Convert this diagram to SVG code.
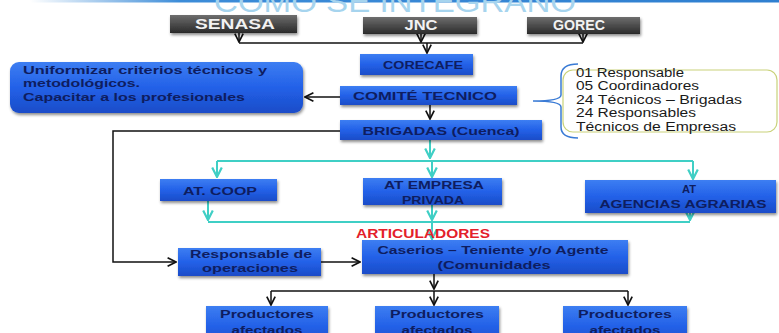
<svg xmlns="http://www.w3.org/2000/svg" width="779" height="333" viewBox="0 0 779 333">
<defs>
<linearGradient id="gBlue" x1="0" y1="0" x2="0" y2="1"><stop offset="0" stop-color="#3d7ef2"/><stop offset="0.5" stop-color="#2361e8"/><stop offset="1" stop-color="#1a4cc8"/></linearGradient>
<linearGradient id="gDark" x1="0" y1="0" x2="0" y2="1"><stop offset="0" stop-color="#6e6e6e"/><stop offset="1" stop-color="#2a2a2a"/></linearGradient>
<linearGradient id="gTop" x1="0" y1="0" x2="1" y2="0"><stop offset="0" stop-color="#3c8cd8" stop-opacity="0"/><stop offset="0.2" stop-color="#3c8cd8"/><stop offset="1" stop-color="#2f7fd0"/></linearGradient>
<filter id="sh" x="-10%" y="-20%" width="130%" height="160%"><feDropShadow dx="1" dy="2" stdDeviation="1.5" flood-color="#000" flood-opacity="0.45"/></filter>
<marker id="ak" viewBox="0 0 10 10" refX="9" refY="5" markerWidth="7" markerHeight="7" orient="auto"><path d="M1,1 L9,5 L1,9" fill="none" stroke="#111" stroke-width="1.6"/></marker>
<marker id="ac" viewBox="0 0 10 10" refX="9" refY="5" markerWidth="6" markerHeight="6" orient="auto"><path d="M1,1 L9,5 L1,9" fill="none" stroke="#3fcfc5" stroke-width="1.8"/></marker>
</defs>
<style>
.box{fill:url(#gBlue);filter:url(#sh)}
.dbox{fill:url(#gDark);filter:url(#sh)}
.t{font-family:"Liberation Sans",Arial,sans-serif;font-weight:bold;fill:#0e1d60;text-anchor:middle;font-size:11.5px}
.tl{font-family:"Liberation Sans",Arial,sans-serif;font-weight:bold;fill:#0e1d60;font-size:11.5px}
.tw{font-family:"Liberation Sans",Arial,sans-serif;font-weight:bold;fill:#f2f2f2;text-anchor:middle;font-size:14px}
.tn{font-family:"Liberation Sans",Arial,sans-serif;fill:#1a1a1a;font-size:12.5px}
.k{stroke:#111;stroke-width:1.5;fill:none}
.c{stroke:#3fcfc5;stroke-width:2;fill:none}
</style>
<rect x="30" y="0" width="749" height="2.5" fill="url(#gTop)"/>
<text x="214" y="12" textLength="362" lengthAdjust="spacingAndGlyphs" font-family="Liberation Sans, Arial, sans-serif" font-size="30" fill="#a6d4ee">COMO SE INTEGRANO</text>

<g id="connectors">
<path class="k" d="M239,33 V42" marker-end="url(#ak)"/>
<path class="k" d="M421,34 V42" marker-end="url(#ak)"/>
<path class="k" d="M583,34 V42" marker-end="url(#ak)"/>
<path class="k" d="M239,43 H583"/>
<path class="k" d="M427,43 V53" marker-end="url(#ak)"/>
<path class="k" d="M340,97 H305" marker-end="url(#ak)"/>
<path class="k" d="M430,105 V119" marker-end="url(#ak)"/>
<path class="k" d="M340,131 H113 V262 H176" marker-end="url(#ak)"/>
<path class="k" d="M321,262 H360" marker-end="url(#ak)"/>
<path class="c" d="M430,140 V158" marker-end="url(#ac)"/>
<path class="c" d="M217,161 H693"/>
<path class="c" d="M217,161 V177" marker-end="url(#ac)"/>
<path class="c" d="M432,161 V177" marker-end="url(#ac)"/>
<path class="c" d="M693,161 V179" marker-end="url(#ac)"/>
<path class="c" d="M208,201 V220" marker-end="url(#ac)"/>
<path class="c" d="M432,205 V220" marker-end="url(#ac)"/>
<path class="c" d="M690,213 V220" marker-end="url(#ac)"/>
<path class="c" d="M208,222 H690"/>
<path class="c" d="M432,222 V239" marker-end="url(#ac)"/>
<path class="k" d="M434,274 V289" marker-end="url(#ak)"/>
<path class="k" d="M271,291 H628"/>
<path class="k" d="M271,291 V305" marker-end="url(#ak)"/>
<path class="k" d="M434,291 V305" marker-end="url(#ak)"/>
<path class="k" d="M628,291 V305" marker-end="url(#ak)"/>
<path d="M578,64 Q561,64 561,76 L561,95 Q561,101 533,101 Q561,101 561,107 L561,127 Q561,138 578,138" fill="none" stroke="#3a7bd5" stroke-width="1.5"/>
</g>

<g id="senasa"><rect class="dbox" x="170" y="15" width="127" height="18"/><text class="tw" x="235" y="29" textLength="80" lengthAdjust="spacingAndGlyphs">SENASA</text></g>
<g id="jnc"><rect class="dbox" x="363" y="17" width="114" height="17"/><text class="tw" x="421" y="30" textLength="33" lengthAdjust="spacingAndGlyphs">JNC</text></g>
<g id="gorec"><rect class="dbox" x="527" y="17" width="113" height="17"/><text class="tw" x="579" y="30" textLength="52" lengthAdjust="spacingAndGlyphs">GOREC</text></g>

<g id="corecafe"><rect class="box" x="360" y="54" width="113" height="21"/><text class="t" x="423" y="69" textLength="80" lengthAdjust="spacingAndGlyphs">CORECAFE</text></g>
<g id="comite"><rect class="box" x="340" y="86" width="177" height="19"/><text class="t" x="425" y="100" textLength="144" lengthAdjust="spacingAndGlyphs">COMITÉ TECNICO</text></g>
<g id="brigadas"><rect class="box" x="340" y="120" width="202" height="20"/><text class="t" x="441" y="135" textLength="157" lengthAdjust="spacingAndGlyphs">BRIGADAS (Cuenca)</text></g>

<g id="uniformizar"><rect class="box" x="10" y="62" width="293" height="51" rx="9"/>
<text class="tl" x="23" y="74" textLength="244" lengthAdjust="spacingAndGlyphs">Uniformizar  criterios técnicos y</text>
<text class="tl" x="23" y="87" textLength="117" lengthAdjust="spacingAndGlyphs">metodológicos.</text>
<text class="tl" x="23" y="101" textLength="222" lengthAdjust="spacingAndGlyphs">Capacitar a los profesionales</text></g>

<g id="equipo"><rect x="563" y="70" width="214" height="62" rx="10" fill="none" stroke="#c9d27a" stroke-width="1.2"/>
<text class="tn" x="576" y="77" textLength="108" lengthAdjust="spacingAndGlyphs">01 Responsable</text>
<text class="tn" x="576" y="90" textLength="123" lengthAdjust="spacingAndGlyphs">05 Coordinadores</text>
<text class="tn" x="576" y="104" textLength="166" lengthAdjust="spacingAndGlyphs">24 Técnicos – Brigadas</text>
<text class="tn" x="576" y="117" textLength="120" lengthAdjust="spacingAndGlyphs">24 Responsables</text>
<text class="tn" x="576" y="131" textLength="160" lengthAdjust="spacingAndGlyphs">Técnicos de Empresas</text></g>

<g id="atcoop"><rect class="box" x="160" y="179" width="117" height="22"/><text class="t" x="220" y="195" textLength="74" lengthAdjust="spacingAndGlyphs">AT. COOP</text></g>
<g id="atempresa"><rect class="box" x="363" y="178" width="139" height="27"/><text class="t" x="434" y="189" textLength="100" lengthAdjust="spacingAndGlyphs">AT EMPRESA</text><text class="t" x="433" y="204" textLength="62" lengthAdjust="spacingAndGlyphs">PRIVADA</text></g>
<g id="atagencias"><rect class="box" x="585" y="180" width="191" height="33"/><text class="t" x="689" y="193" textLength="14" lengthAdjust="spacingAndGlyphs">AT</text><text class="t" x="683" y="208" textLength="167" lengthAdjust="spacingAndGlyphs">AGENCIAS AGRARIAS</text></g>

<text x="423" y="238" text-anchor="middle" textLength="134" lengthAdjust="spacingAndGlyphs" font-family="Liberation Sans, Arial, sans-serif" font-weight="bold" font-size="13" fill="#e3202a">ARTICULADORES</text>

<g id="responsable"><rect class="box" x="178" y="248" width="143" height="28"/><text class="t" x="251" y="258" textLength="122" lengthAdjust="spacingAndGlyphs">Responsable de</text><text class="t" x="250" y="272" textLength="96" lengthAdjust="spacingAndGlyphs">operaciones</text></g>
<g id="caserios"><rect class="box" x="362" y="240" width="266" height="34"/><text class="t" x="493" y="254" textLength="231" lengthAdjust="spacingAndGlyphs">Caserios – Teniente y/o Agente</text><text class="t" x="494" y="269" textLength="113" lengthAdjust="spacingAndGlyphs">(Comunidades</text></g>

<g id="prod1"><rect class="box" x="206" y="306" width="122" height="40"/><text class="t" x="267" y="318" textLength="94" lengthAdjust="spacingAndGlyphs">Productores</text><text class="t" x="267" y="334" textLength="71" lengthAdjust="spacingAndGlyphs">afectados</text></g>
<g id="prod2"><rect class="box" x="375" y="306" width="124" height="40"/><text class="t" x="437" y="318" textLength="94" lengthAdjust="spacingAndGlyphs">Productores</text><text class="t" x="437" y="334" textLength="71" lengthAdjust="spacingAndGlyphs">afectados</text></g>
<g id="prod3"><rect class="box" x="563" y="306" width="124" height="40"/><text class="t" x="625" y="318" textLength="94" lengthAdjust="spacingAndGlyphs">Productores</text><text class="t" x="625" y="334" textLength="71" lengthAdjust="spacingAndGlyphs">afectados</text></g>
</svg>
